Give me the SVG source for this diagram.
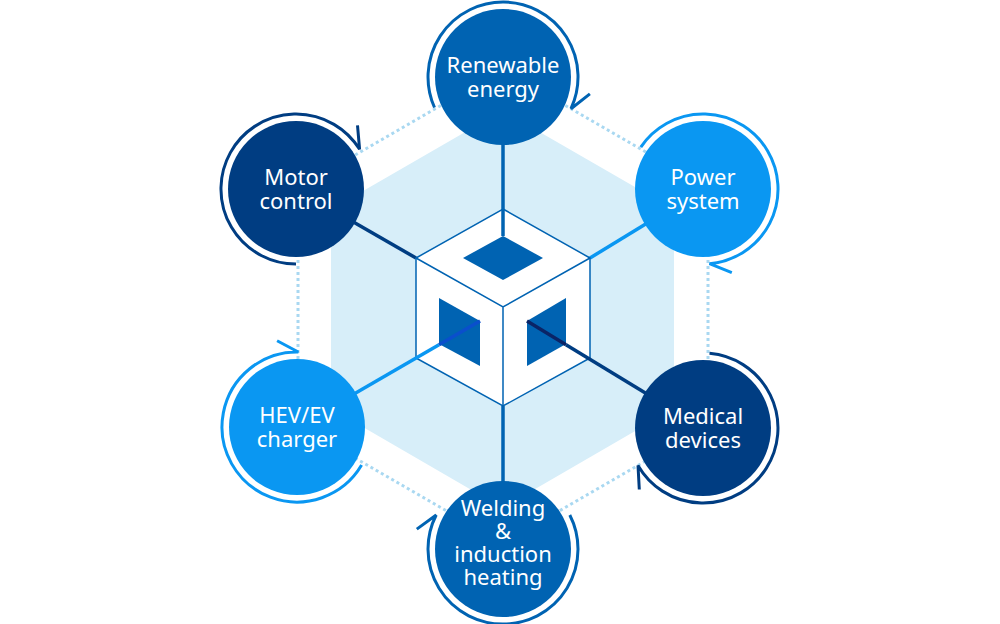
<svg xmlns="http://www.w3.org/2000/svg" width="1000" height="624" viewBox="0 0 1000 624">
<style>
.dot{stroke:#a9d8f1;stroke-width:3;stroke-dasharray:3 3;fill:none}
.spoke{stroke-width:3.5;fill:none}
.ring{fill:none;stroke-width:3}
.lbl{font-family:"Noto Sans","Liberation Sans",sans-serif;font-size:22px;fill:#ffffff;text-anchor:middle}
.c1{fill:#0063b2}.c2{fill:#0a97f2}.c3{fill:#003d82}
.s1{stroke:#0063b2}.s2{stroke:#0a97f2}.s3{stroke:#003d82}
.edge{stroke:#0063b2;stroke-width:1.5}
.inner{fill:#0063b2}
</style>
<rect width="1000" height="624" fill="#ffffff"/>
<polygon id="bg-hex" points="502.5,110.5 674,209.5 674,408.5 502.5,508 331,408.5 331,209.5" fill="#d7eef9"/>
<g id="connectors">
  <g id="ring-links">
    <line class="dot" x1="503" y1="69.5" x2="708" y2="188"/>
    <line class="dot" x1="708" y1="188" x2="708" y2="425"/>
    <line class="dot" x1="708" y1="425" x2="503" y2="543.5"/>
    <line class="dot" x1="503" y1="543.5" x2="298" y2="425"/>
    <line class="dot" x1="298" y1="425" x2="298" y2="188"/>
    <line class="dot" x1="298" y1="188" x2="503" y2="69.5"/>
  </g>
  <g id="spokes-under">
    <line class="spoke s2" x1="703" y1="189" x2="590" y2="258"/>
    <line class="spoke s3" x1="296" y1="189" x2="416" y2="258"/>
    <line class="spoke s1" x1="503" y1="549" x2="503" y2="406"/>
  </g>
</g>
<g id="cube">
  <polygon class="edge" points="503,209 590,258 590,358 503,406 416,358 416,258" fill="#ffffff"/>
  <path class="edge" fill="none" d="M416,258 L503,307 L590,258 M503,307 L503,406"/>
  <polygon class="inner" points="503,236 543,258 503,280 463,258"/>
  <polygon class="inner" points="439,298 480,321 480,366 439,344"/>
  <polygon class="inner" points="527,321 566,298 566,344 527,366"/>
</g>
<g id="connectors-over">
  <line class="spoke s1" x1="503" y1="77" x2="503" y2="236"/>
  <line class="spoke s2" x1="297" y1="427" x2="439" y2="344.7"/>
  <line class="spoke" stroke="#0a4fcc" x1="439" y1="344.7" x2="480" y2="321"/>
  <line class="spoke s3" x1="703" y1="428" x2="566" y2="344.7"/>
  <line class="spoke" stroke="#0a2466" x1="566" y1="344.7" x2="527" y2="321"/>
</g>
<g id="node-renewable">
  <path class="ring s1" d="M434.5,107.5 A75,75 0 1 1 571,108.7 L589.9,93.9"/>
  <circle class="c1" cx="503" cy="77" r="68"/>
  <text class="lbl" x="503" y="73">Renewable</text>
  <text class="lbl" x="503" y="96.5">energy</text>
</g>
<g id="node-power">
  <path class="ring s2" d="M640.8,147.1 A75,75 0 1 1 709.5,263.7 L731.8,272.7"/>
  <circle class="c2" cx="703" cy="189" r="68"/>
  <text class="lbl" x="703" y="185">Power</text>
  <text class="lbl" x="703" y="208.5">system</text>
</g>
<g id="node-medical">
  <path class="ring s3" d="M709.5,353.3 A75,75 0 1 1 638,465.5 L639.3,489.5"/>
  <circle class="c3" cx="703" cy="428" r="68"/>
  <text class="lbl" x="703" y="424">Medical</text>
  <text class="lbl" x="703" y="447.5">devices</text>
</g>
<g id="node-welding">
  <path class="ring s1" d="M569.8,515 A75,75 0 1 1 436.2,515 L416.8,529.1"/>
  <circle class="c1" cx="503" cy="549" r="68"/>
  <text class="lbl" x="503" y="516">Welding</text>
  <text class="lbl" x="503" y="539">&amp;</text>
  <text class="lbl" x="503" y="562">induction</text>
  <text class="lbl" x="503" y="585">heating</text>
</g>
<g id="node-hev">
  <path class="ring s2" d="M361.6,465.1 A75,75 0 1 1 298.3,352 L277.1,340.7"/>
  <circle class="c2" cx="297" cy="427" r="68"/>
  <text class="lbl" x="297" y="423">HEV/EV</text>
  <text class="lbl" x="297" y="446.5">charger</text>
</g>
<g id="node-motor">
  <path class="ring s3" d="M296,264 A75,75 0 1 1 359.6,149.3 L357.5,125.4"/>
  <circle class="c3" cx="296" cy="189" r="68"/>
  <text class="lbl" x="296" y="185">Motor</text>
  <text class="lbl" x="296" y="208.5">control</text>
</g>
</svg>
